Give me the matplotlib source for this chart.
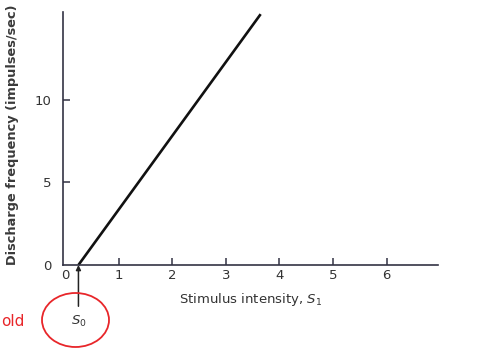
import matplotlib.pyplot as plt
from matplotlib.patches import Ellipse

# response line: threshold S0 then linear rise
stim = [0.25, 3.65]
freq = [0.0, 15.2]
xticks = [0, 1, 2, 3, 4, 5, 6]
yticks = [0, 5, 10]
s0 = 0.25

fig = plt.figure(figsize=(4.79, 3.54), dpi=100)
ax = fig.add_axes([62.9 / 479, 89 / 354, 374.6 / 479, 252.5 / 354])
ax.set_xlim(-0.04, 6.95)
ax.set_ylim(0, 15.3)

ax.plot(stim, freq, color='#111111', lw=1.9, solid_capstyle='butt', clip_on=False)

for s in ['top', 'right']:
    ax.spines[s].set_visible(False)
for s in ['left', 'bottom']:
    ax.spines[s].set_color('#333344')
    ax.spines[s].set_linewidth(1.2)

ax.set_xticks(xticks)
ax.set_yticks(yticks)
ax.tick_params(direction='in', length=5, width=1.1, color='#333344',
               labelsize=9.5, labelcolor='#333333')
ax.tick_params(axis='y', pad=8)
ax.tick_params(axis='x', pad=3)
ax.xaxis.get_major_ticks()[0].tick1line.set_visible(False)
ax.yaxis.get_major_ticks()[0].tick1line.set_visible(False)

ax.set_xlabel(r'Stimulus intensity, $S_1$', fontsize=9.5, color='#333333',
              labelpad=6)
ax.set_ylabel('Discharge frequency (impulses/sec)', fontsize=9.3,
              color='#3a3a3a', fontweight='bold')
ax.yaxis.set_label_coords(-0.118, 0.515)

# threshold arrow and label
ax.annotate('', xy=(s0, 0), xytext=(s0, -2.5), xycoords='data',
            arrowprops=dict(arrowstyle='-|>', color='#222222', lw=1.1,
                            mutation_scale=7, shrinkA=0, shrinkB=0),
            annotation_clip=False)
ax.text(s0, -3.45, r'$S_0$', ha='center', va='center', fontsize=9.5,
        color='#333333')

# red annotation (cut off at left in the source)
fig.patches.append(Ellipse((75.5 / 479, 1 - 320 / 354), 67 / 479, 54 / 354,
                           transform=fig.transFigure, fill=False,
                           edgecolor='#e8262a', lw=1.3))
fig.text(1 / 479, 1 - 322 / 354, 'old', ha='left', va='center',
         fontsize=11, color='#e8262a')

fig.savefig('out.png', dpi=100)
